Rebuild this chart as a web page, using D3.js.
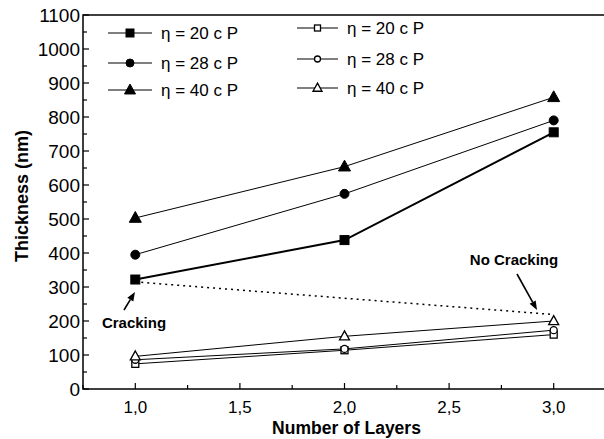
<!DOCTYPE html>
<html>
<head>
<meta charset="utf-8">
<script src="https://cdn.jsdelivr.net/npm/d3@7"></script>
<style>
body { margin: 0; background: #fff; }
svg text { font-family: "Liberation Sans", Arial, sans-serif; fill: #000; }
</style>
</head>
<body>
<div id="chart"></div>
<script>
// data
const layers = [1, 2, 3];
const filledSquare = [322, 438, 755];
const filledCircle = [395, 574, 790];
const filledTriangle = [503, 654, 858];
const openSquare = [74, 114, 160];
const openCircle = [86, 118, 173];
const openTriangle = [96, 155, 200];
const crackLine = [[1.0, 315], [3.0, 219]];
const yTicks = [0, 100, 200, 300, 400, 500, 600, 700, 800, 900, 1000, 1100];
const xTicks = [1.0, 1.5, 2.0, 2.5, 3.0];
const legendNames = ["\u03b7 = 20 c P", "\u03b7 = 28 c P", "\u03b7 = 40 c P"];

const W = 604, H = 439;
const m = { left: 83, right: 606, top: 15, bottom: 389 };

const svg = d3.select("#chart").append("svg")
    .attr("width", W)
    .attr("height", H);

const x = d3.scaleLinear().domain([0.75, 3.25]).range([m.left, m.right]);
const y = d3.scaleLinear().domain([0, 1100]).range([m.bottom, m.top]);

// frame
svg.append("rect")
    .attr("x", m.left).attr("y", m.top)
    .attr("width", m.right - m.left).attr("height", m.bottom - m.top)
    .attr("fill", "none").attr("stroke", "#000").attr("stroke-width", 1.5);

// y ticks (inward)
d3.range(0, 1101, 50).forEach(function (v) {
    let len = v % 100 === 0 ? 6 : 4;
    svg.append("line")
        .attr("x1", m.left).attr("x2", m.left + len)
        .attr("y1", y(v)).attr("y2", y(v))
        .attr("stroke", "#000").attr("stroke-width", 1.2);
});
svg.selectAll(".ylab").data(yTicks).enter().append("text")
    .attr("x", m.left - 3)
    .attr("y", d => y(d) + 6.5)
    .attr("text-anchor", "end")
    .style("font-size", "19px")
    .text(d => d);

// x ticks (inward)
d3.range(0.75, 3.26, 0.25).forEach(function (v) {
    let major = Math.abs(v * 2 - Math.round(v * 2)) < 1e-6;
    let len = major ? 6 : 4;
    svg.append("line")
        .attr("x1", x(v)).attr("x2", x(v))
        .attr("y1", m.bottom).attr("y2", m.bottom - len)
        .attr("stroke", "#000").attr("stroke-width", 1.2);
});
svg.selectAll(".xlab").data(xTicks).enter().append("text")
    .attr("x", d => x(d))
    .attr("y", 413)
    .attr("text-anchor", "middle")
    .style("font-size", "17px")
    .text(d => d.toFixed(1).replace(".", ","));

// axis titles
svg.append("text")
    .attr("transform", "translate(28," + ((m.top + m.bottom) / 2 - 6) + ") rotate(-90)")
    .attr("text-anchor", "middle")
    .style("font-size", "18px").style("font-weight", "bold")
    .text("Thickness (nm)");
svg.append("text")
    .attr("x", x(2.0) + 2).attr("y", 434)
    .attr("text-anchor", "middle")
    .style("font-size", "17.5px").style("font-weight", "bold")
    .text("Number of Layers");

// markers
function marker(g, type, filled, cx, cy, s) {
    let fill = filled ? "#000" : "#fff";
    let sw = filled ? 1 : 1.3;
    if (type === "square") {
        g.append("rect").attr("x", cx - s / 2).attr("y", cy - s / 2)
            .attr("width", s).attr("height", s)
            .attr("fill", fill).attr("stroke", "#000").attr("stroke-width", sw);
    } else if (type === "circle") {
        g.append("circle").attr("cx", cx).attr("cy", cy).attr("r", s / 2)
            .attr("fill", fill).attr("stroke", "#000").attr("stroke-width", sw);
    } else {
        let h = s * 0.9;
        g.append("path")
            .attr("d", `M${cx},${cy - h * 0.6}L${cx + s / 2},${cy + h * 0.4}L${cx - s / 2},${cy + h * 0.4}Z`)
            .attr("fill", fill).attr("stroke", "#000").attr("stroke-width", sw);
    }
}

const series = [
    { vals: filledSquare, type: "square", filled: true, size: 9, lw: 2 },
    { vals: filledCircle, type: "circle", filled: true, size: 9, lw: 1 },
    { vals: filledTriangle, type: "triangle", filled: true, size: 12, lw: 1 },
    { vals: openSquare, type: "square", filled: false, size: 7, lw: 1 },
    { vals: openCircle, type: "circle", filled: false, size: 7, lw: 1 },
    { vals: openTriangle, type: "triangle", filled: false, size: 10, lw: 1 }
];

const line = d3.line().x(d => x(d[0])).y(d => y(d[1]));

// dotted cracking line
svg.append("path")
    .attr("d", line(crackLine))
    .attr("fill", "none").attr("stroke", "#000")
    .attr("stroke-width", 1.5).attr("stroke-dasharray", "2,4");

series.forEach(function (s) {
    let pts = layers.map((l, i) => [l, s.vals[i]]);
    svg.append("path")
        .attr("d", line(pts))
        .attr("fill", "none").attr("stroke", "#000").attr("stroke-width", s.lw);
});
series.forEach(function (s) {
    let g = svg.append("g");
    layers.forEach(function (l, i) {
        marker(g, s.type, s.filled, x(l), y(s.vals[i]), s.size);
    });
});

// legend
const legendCols = [
    { x1: 108, x2: 152, tx: 161, ys: [33, 63, 90], filled: true, sizes: [8, 8, 11] },
    { x1: 297, x2: 338, tx: 347, ys: [28, 59, 88], filled: false, sizes: [6, 6, 9] }
];
const legendTypes = ["square", "circle", "triangle"];
legendCols.forEach(function (c) {
    legendNames.forEach(function (name, i) {
        let g = svg.append("g");
        g.append("line").attr("x1", c.x1).attr("x2", c.x2)
            .attr("y1", c.ys[i]).attr("y2", c.ys[i])
            .attr("stroke", "#000").attr("stroke-width", 1.2);
        marker(g, legendTypes[i], c.filled, (c.x1 + c.x2) / 2, c.ys[i], c.sizes[i]);
        g.append("text").attr("x", c.tx).attr("y", c.ys[i] + 6)
            .style("font-size", "17px")
            .text(name);
    });
});

// annotations
function arrow(x1, y1, x2, y2) {
    let ang = Math.atan2(y2 - y1, x2 - x1);
    let hl = 9, hw = 3.5;
    let bx = x2 - hl * Math.cos(ang), by = y2 - hl * Math.sin(ang);
    svg.append("line").attr("x1", x1).attr("y1", y1).attr("x2", bx).attr("y2", by)
        .attr("stroke", "#000").attr("stroke-width", 1.6);
    svg.append("path")
        .attr("d", `M${x2},${y2}L${bx + hw * Math.sin(ang)},${by - hw * Math.cos(ang)}L${bx - hw * Math.sin(ang)},${by + hw * Math.cos(ang)}Z`)
        .attr("fill", "#000");
}
arrow(124, 310, 135, 292);
arrow(517, 274, 537, 310);

svg.append("text")
    .attr("x", 134).attr("y", 328)
    .attr("text-anchor", "middle")
    .style("font-size", "15px").style("font-weight", "bold")
    .text("Cracking");
svg.append("text")
    .attr("x", 514).attr("y", 265)
    .attr("text-anchor", "middle")
    .style("font-size", "15px").style("font-weight", "bold")
    .text("No Cracking");
</script>
</body>
</html>
